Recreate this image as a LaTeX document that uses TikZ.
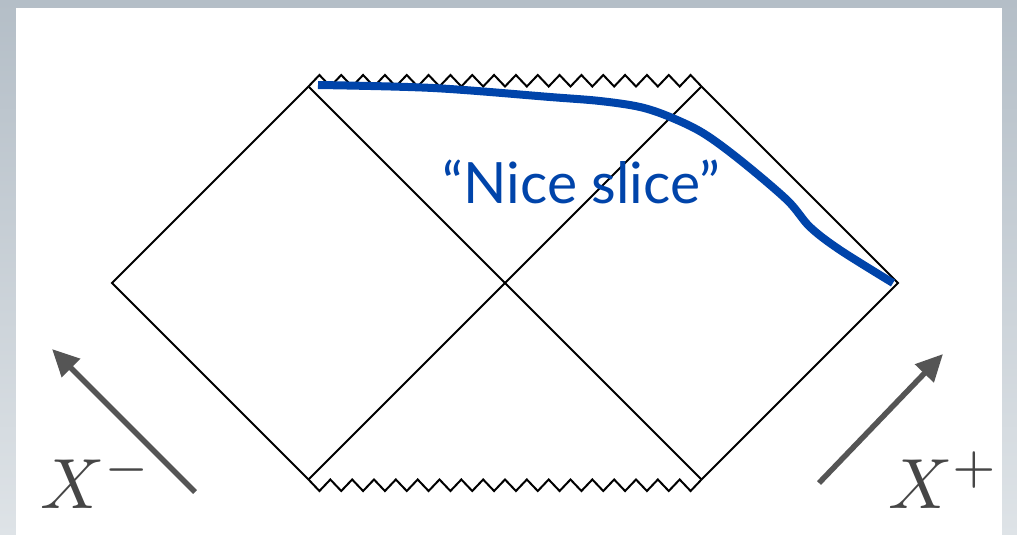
\documentclass[tikz,border=0pt]{standalone}
\usepackage{graphicx}
\usepackage{fontspec}
\newfontfamily\nicefont{Lato}
\usetikzlibrary{arrows.meta}
\definecolor{bgtop}{RGB}{180,190,199}
\definecolor{bgbot}{RGB}{222,227,231}
\definecolor{slice}{RGB}{0,68,170}
\definecolor{arrgray}{RGB}{85,85,85}
\definecolor{labgray}{RGB}{70,70,70}
\tikzset{
  edge/.style={line width=2pt, line join=miter},
  axisarrow/.style={line width=5.5pt, arrgray, -{Triangle[length=27pt,width=25pt]}},
  axislabel/.style={inner sep=0pt, anchor=base west, text=labgray},
  slicecurve/.style={line width=8pt, slice, line cap=butt},
}
\begin{document}
\begin{tikzpicture}[x=1pt,y=-1pt]
\useasboundingbox (0,0) rectangle (1017,535);
\shade[top color=bgtop, bottom color=bgbot] (0,0) rectangle (1017,535);
\fill[white] (16,8) rectangle (1002,535);
% corners
\coordinate (L) at (112,283);
\coordinate (TL) at (308.5,86.5);
\coordinate (BL) at (308.5,479.5);
\coordinate (C) at (505,283);
\coordinate (TR) at (701.5,86.5);
\coordinate (BR) at (701.5,479.5);
\coordinate (R) at (898,283);
\draw[edge] (TL) -- (L) -- (BL);
\draw[edge] (TR) -- (R) -- (BR);
\draw[edge] (TL) -- (C) -- (BR);
\draw[edge] (BL) -- (C) -- (TR);
% singularities
\draw[edge] (TL) \foreach \i in {0,...,17} { -- ++(10.9167,-11.5) -- ++(10.9167,11.5) };
\draw[edge] (BL) \foreach \i in {0,...,17} { -- ++(10.9167,11.5) -- ++(10.9167,-11.5) };
% nice slice
\draw[slicecurve] plot[smooth, tension=0.55] coordinates {(318,85) (433,88) (550,97) (600,101) (640,107) (670,117) (703,133) (740,160) (787,200) (810,227) (840,250) (893,283)};
\node[inner sep=0pt, anchor=base, text=slice, font=\nicefont\fontsize{57}{57}\selectfont] (nice) at (581.5,203) {“Nice slice”};
% axes
\coordinate (am0) at (195,492);
\coordinate (am1) at (52,349);
\coordinate (ap0) at (819,483);
\coordinate (ap1) at (943,354);
\draw[axisarrow] (am0) -- (am1);
\draw[axisarrow] (ap0) -- (ap1);
\node[axislabel] (xm) at (40,508) {\scalebox{7.1}{$X^-$}};
\node[axislabel] (xp) at (888,508) {\scalebox{7.1}{$X^+$}};
\end{tikzpicture}
\end{document}
